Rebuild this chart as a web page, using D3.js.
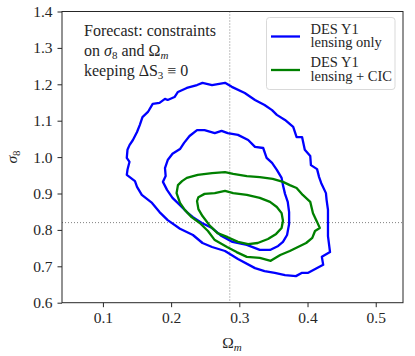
<!DOCTYPE html>
<html>
<head>
<meta charset="utf-8">
<script src="https://cdn.jsdelivr.net/npm/d3@7"></script>
<style>
  body { margin: 0; background: #fff; }
  svg text, svg tspan { font-family: 'Liberation Serif', serif !important; }
</style>
</head>
<body>
<div id="chart"></div>
<script>
// contour outlines, [Omega_m, sigma_8]
var lensingOuter = [
  [0.246,1.204],[0.260,1.198],[0.279,1.204],[0.289,1.193],[0.308,1.176],[0.323,1.157],
  [0.337,1.143],[0.348,1.129],[0.355,1.116],[0.367,1.102],[0.379,1.083],[0.384,1.055],
  [0.392,1.055],[0.396,1.020],[0.404,1.003],[0.405,0.978],[0.414,0.967],[0.417,0.945],
  [0.420,0.929],[0.427,0.901],[0.428,0.882],[0.430,0.855],[0.430,0.819],[0.430,0.783],
  [0.433,0.739],[0.421,0.726],[0.423,0.704],[0.412,0.693],[0.401,0.682],[0.392,0.682],
  [0.383,0.673],[0.367,0.676],[0.352,0.682],[0.337,0.687],[0.323,0.695],[0.298,0.720],
  [0.279,0.742],[0.260,0.753],[0.246,0.764],[0.232,0.786],[0.213,0.803],[0.195,0.827],
  [0.183,0.849],[0.172,0.874],[0.157,0.896],[0.150,0.918],[0.147,0.934],[0.135,0.951],
  [0.136,0.965],[0.139,0.987],[0.135,0.998],[0.136,1.020],[0.139,1.033],[0.144,1.047],
  [0.150,1.069],[0.154,1.088],[0.158,1.110],[0.166,1.124],[0.173,1.146],[0.183,1.149],
  [0.191,1.160],[0.195,1.157],[0.205,1.165],[0.210,1.179],[0.223,1.190],[0.238,1.198]
];
var lensingInner = [
  [0.238,1.074],[0.249,1.074],[0.264,1.066],[0.274,1.072],[0.283,1.066],[0.298,1.061],
  [0.313,1.047],[0.323,1.028],[0.335,1.025],[0.340,0.998],[0.348,0.984],[0.355,0.965],
  [0.362,0.943],[0.364,0.923],[0.367,0.899],[0.371,0.877],[0.373,0.849],[0.373,0.816],
  [0.370,0.786],[0.364,0.767],[0.357,0.756],[0.345,0.745],[0.330,0.745],[0.311,0.759],
  [0.290,0.767],[0.274,0.783],[0.260,0.805],[0.245,0.819],[0.232,0.835],[0.223,0.849],
  [0.213,0.868],[0.202,0.888],[0.194,0.910],[0.188,0.932],[0.192,0.948],[0.191,0.970],
  [0.195,0.992],[0.202,1.009],[0.213,1.022],[0.219,1.039],[0.227,1.058]
];
var cicOuter = [
  [0.223,0.943],[0.239,0.951],[0.260,0.956],[0.279,0.959],[0.291,0.954],[0.311,0.948],
  [0.330,0.945],[0.349,0.940],[0.364,0.932],[0.374,0.923],[0.384,0.915],[0.393,0.896],
  [0.404,0.877],[0.408,0.846],[0.414,0.822],[0.418,0.805],[0.411,0.797],[0.407,0.778],
  [0.398,0.764],[0.386,0.753],[0.374,0.742],[0.360,0.731],[0.346,0.715],[0.330,0.723],
  [0.311,0.726],[0.296,0.739],[0.282,0.753],[0.264,0.772],[0.254,0.797],[0.242,0.819],
  [0.230,0.835],[0.220,0.855],[0.213,0.874],[0.208,0.901],[0.210,0.923],[0.216,0.934]
];
var cicInner = [
  [0.249,0.899],[0.264,0.901],[0.279,0.907],[0.291,0.901],[0.311,0.896],[0.330,0.888],
  [0.345,0.877],[0.355,0.863],[0.362,0.846],[0.364,0.825],[0.362,0.805],[0.354,0.789],
  [0.342,0.775],[0.327,0.764],[0.313,0.761],[0.298,0.767],[0.283,0.780],[0.268,0.791],
  [0.257,0.811],[0.246,0.838],[0.240,0.857],[0.238,0.879],[0.240,0.890]
];

var fiducial = [0.286, 0.82];
var xTicks = [0.1, 0.2, 0.3, 0.4, 0.5];
var yTicks = [0.6, 0.7, 0.8, 0.9, 1.0, 1.1, 1.2, 1.3, 1.4];

var INK = "#262626";

var W = 415, H = 356;
var margin = {top: 11.5, right: 12, bottom: 53.3, left: 62};
var width = W - margin.left - margin.right,
    height = H - margin.top - margin.bottom;

var svg = d3.select("#chart").append("svg")
    .attr("width", W)
    .attr("height", H);

var g = svg.append("g")
    .attr("transform", "translate(" + margin.left + "," + margin.top + ")");

var x = d3.scaleLinear().domain([0.04, 0.54]).range([0, width]);
var y = d3.scaleLinear().domain([0.6, 1.4]).range([height, 0]);

// dotted fiducial lines
g.append("line")
    .attr("x1", x(fiducial[0])).attr("x2", x(fiducial[0]))
    .attr("y1", 0).attr("y2", height)
    .attr("stroke", "#808080").attr("stroke-width", 1)
    .attr("stroke-dasharray", "1,2");
g.append("line")
    .attr("x1", 0).attr("x2", width)
    .attr("y1", y(fiducial[1])).attr("y2", y(fiducial[1]))
    .attr("stroke", "#808080").attr("stroke-width", 1)
    .attr("stroke-dasharray", "1,2");

var line = d3.line()
    .x(function(d) { return x(d[0]); })
    .y(function(d) { return y(d[1]); })
    .curve(d3.curveLinearClosed);

var contours = [
  {pts: lensingOuter, color: "#0000ff"},
  {pts: lensingInner, color: "#0000ff"},
  {pts: cicOuter, color: "#008000"},
  {pts: cicInner, color: "#008000"}
];

g.selectAll("path.contour")
    .data(contours)
    .enter()
    .append("path")
    .attr("class", "contour")
    .attr("d", function(d) { return line(d.pts); })
    .attr("fill", "none")
    .attr("stroke", function(d) { return d.color; })
    .attr("stroke-width", 2.3)
    .attr("stroke-linejoin", "round");

// axes
var xAxis = g.append("g")
    .attr("transform", "translate(0," + height + ")")
    .call(d3.axisBottom(x).tickValues(xTicks).tickSize(4.5).tickPadding(5)
        .tickFormat(d3.format(".1f")));
var yAxis = g.append("g")
    .call(d3.axisLeft(y).tickValues(yTicks).tickSize(4.5).tickPadding(5)
        .tickFormat(d3.format(".1f")));

[xAxis, yAxis].forEach(function(a) {
  a.attr("font-family", "Liberation Serif").attr("font-size", 15.5);
  a.select(".domain").remove();
  a.selectAll(".tick line").attr("stroke", INK).attr("stroke-width", 1);
  a.selectAll(".tick text").attr("fill", INK);
});

// frame
g.append("rect")
    .attr("width", width).attr("height", height)
    .attr("fill", "none").attr("stroke", INK).attr("stroke-width", 1);

// annotation
var note = g.append("text")
    .attr("fill", INK)
    .attr("font-family", "Liberation Serif")
    .attr("font-size", 16);
note.append("tspan").attr("x", 22).attr("y", 24.5).text("Forecast: constraints");
var l2 = note.append("tspan").attr("x", 22).attr("y", 44.5);
l2.append("tspan").text("on ");
l2.append("tspan").attr("font-style", "italic").text("σ");
l2.append("tspan").attr("dy", 3).attr("font-size", 11).text("8");
l2.append("tspan").attr("dy", -3).text(" and Ω");
l2.append("tspan").attr("dy", 3).attr("font-size", 11).attr("font-style", "italic").text("m");
var l3 = note.append("tspan").attr("x", 22).attr("y", 64.5);
l3.append("tspan").text("keeping ΔS");
l3.append("tspan").attr("dy", 3).attr("font-size", 11).text("3");
l3.append("tspan").attr("dy", -3).text(" ≡ 0");

// legend
var legend = svg.append("g");
legend.append("rect")
    .attr("x", 266.5).attr("y", 17.5)
    .attr("width", 128.5).attr("height", 72)
    .attr("rx", 3).attr("ry", 3)
    .attr("fill", "#fff").attr("fill-opacity", 0.8)
    .attr("stroke", "#d9d9d9").attr("stroke-width", 1);

var legendItems = [
  {label: ["DES Y1", "lensing only"], color: "#0000ff"},
  {label: ["DES Y1", "lensing + CIC"], color: "#008000"}
];
var item = legend.selectAll("g.item")
    .data(legendItems)
    .enter()
    .append("g")
    .attr("class", "item")
    .attr("transform", function(d, i) { return "translate(0," + (i * 33.5) + ")"; });
item.append("line")
    .attr("x1", 271).attr("x2", 300)
    .attr("y1", 36.5).attr("y2", 36.5)
    .attr("stroke", function(d) { return d.color; })
    .attr("stroke-width", 2.3);
item.append("text")
    .attr("fill", INK)
    .attr("font-family", "Liberation Serif")
    .attr("font-size", 14.5)
    .selectAll("tspan")
    .data(function(d) { return d.label; })
    .enter()
    .append("tspan")
    .attr("x", 310.5)
    .attr("y", function(d, i) { return 33.5 + i * 13.5; })
    .text(function(d) { return d; });

// axis labels
var xl = svg.append("text")
    .attr("x", 232).attr("y", 348)
    .attr("text-anchor", "middle")
    .attr("fill", INK)
    .attr("font-family", "Liberation Serif")
    .attr("font-size", 15.5);
xl.append("tspan").text("Ω");
xl.append("tspan").attr("dy", 3).attr("font-size", 11).attr("font-style", "italic").text("m");

var yl = svg.append("text")
    .attr("transform", "translate(17,157) rotate(-90)")
    .attr("text-anchor", "middle")
    .attr("fill", INK)
    .attr("font-family", "Liberation Serif")
    .attr("font-size", 15.5);
yl.append("tspan").attr("font-style", "italic").text("σ");
yl.append("tspan").attr("dy", 3).attr("font-size", 11).text("8");
</script>
</body>
</html>
